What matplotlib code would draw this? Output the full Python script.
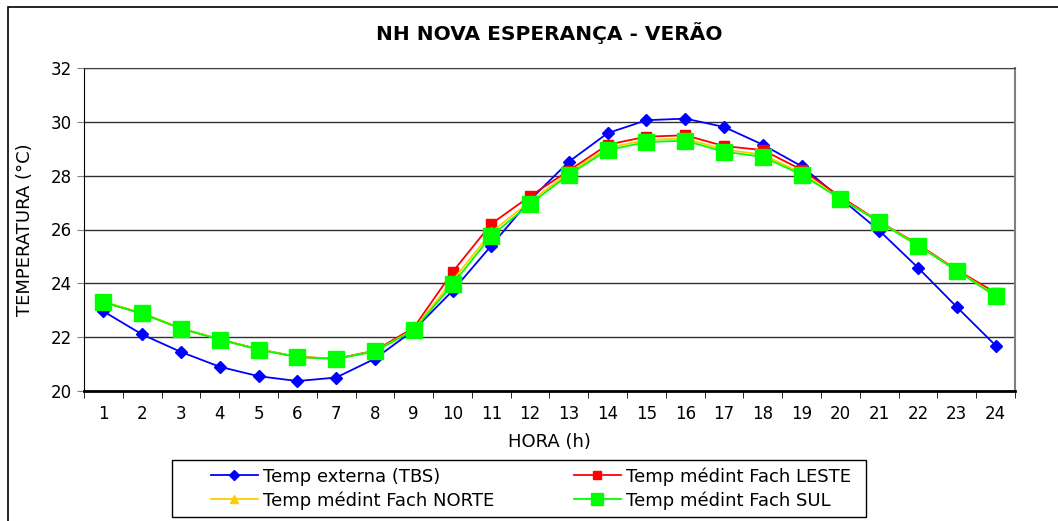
import matplotlib
matplotlib.use('Agg')
import matplotlib.pyplot as plt
from matplotlib.patches import Rectangle

horas = list(range(1, 25))

tbs = [22.96, 22.1, 21.45, 20.9, 20.55, 20.37, 20.5, 21.2, 22.26, 23.72, 25.4, 27.1,
       28.52, 29.58, 30.06, 30.12, 29.81, 29.15, 28.35, 27.16, 25.96, 24.58, 23.12, 21.69]
leste = [23.3, 22.88, 22.32, 21.92, 21.55, 21.27, 21.2, 21.5, 22.35, 24.42, 26.21, 27.24,
         28.19, 29.15, 29.45, 29.5, 29.1, 28.95, 28.22, 27.22, 26.3, 25.45, 24.5, 23.65]
norte = [23.32, 22.9, 22.33, 21.92, 21.55, 21.27, 21.2, 21.48, 22.28, 24.1, 25.9, 27.05,
         28.1, 29.03, 29.33, 29.38, 28.97, 28.78, 28.1, 27.15, 26.3, 25.42, 24.48, 23.55]
sul = [23.3, 22.88, 22.32, 21.91, 21.54, 21.26, 21.19, 21.47, 22.26, 23.96, 25.77, 26.95,
       28.04, 28.95, 29.25, 29.3, 28.89, 28.7, 28.04, 27.14, 26.28, 25.4, 24.47, 23.52]

fig = plt.figure(figsize=(10.58, 5.21), dpi=100)
# outer chart border
fig.patches.append(Rectangle((8 / 1058, -0.1), 1.1, 1 - 7 / 521 + 0.1,
                             transform=fig.transFigure, fill=False,
                             edgecolor='black', linewidth=1.2))
# legend frame
fig.patches.append(Rectangle((172 / 1058, 1 - 517 / 521), 694 / 1058, 57 / 521,
                             transform=fig.transFigure, fill=False,
                             edgecolor='black', linewidth=1))

ax = fig.add_axes([84 / 1058, 1 - 391 / 521, 931 / 1058, 323 / 521])

ax.plot(horas, tbs, color='#0000ff', marker='D', markersize=6.5, linewidth=1.3,
        label='Temp externa (TBS)', zorder=3)
ax.plot(horas, leste, color='#ff0000', marker='s', markersize=6.5, linewidth=1.3,
        label='Temp médint Fach LESTE', zorder=4)
ax.plot(horas, norte, color='#ffcc00', marker='^', markersize=7, linewidth=1.3,
        label='Temp médint Fach NORTE', zorder=5)
ax.plot(horas, sul, color='#00ff00', marker='s', markersize=11, linewidth=1.3,
        label='Temp médint Fach SUL', zorder=6)

ax.set_xlim(0.5, 24.5)
ax.set_ylim(20, 32)
ax.set_yticks(range(20, 33, 2))
ax.set_xticks(horas)
ax.set_xticks([h + 0.5 for h in range(0, 25)], minor=True)
ax.tick_params(axis='x', which='major', length=0, labelsize=12, pad=10)
ax.tick_params(axis='x', which='minor', length=5, direction='out', color='black')
ax.tick_params(axis='y', length=5, direction='out', color='#808080', labelsize=12, pad=4)
ax.yaxis.grid(True, color='#303030', linewidth=1)
ax.set_axisbelow(True)

ax.spines['bottom'].set_linewidth(2)
ax.spines['bottom'].set_color('black')
ax.spines['left'].set_color('black')
ax.spines['top'].set_color('#404040')
ax.spines['right'].set_color('#808080')
ax.spines['right'].set_linewidth(1.5)

ax.set_title('NH NOVA ESPERANÇA - VERÃO', fontsize=14.5, fontweight='bold', pad=20)
ax.set_xlabel('HORA (h)', fontsize=13, labelpad=7)
ax.set_ylabel('TEMPERATURA (°C)', fontsize=13, labelpad=12)

h, l = ax.get_legend_handles_labels()
order = [0, 2, 1, 3]
leg = fig.legend([h[i] for i in order], [l[i] for i in order], ncol=2,
                 loc='center', mode='expand',
                 bbox_to_anchor=(211 / 1058, 1 - 517 / 521, 640 / 1058, 57 / 521),
                 fontsize=13, frameon=False, borderpad=0, borderaxespad=0,
                 handlelength=2.6, labelspacing=0.3, handletextpad=0.3,
                 markerscale=0.85)

fig.savefig('out.png', dpi=100)
